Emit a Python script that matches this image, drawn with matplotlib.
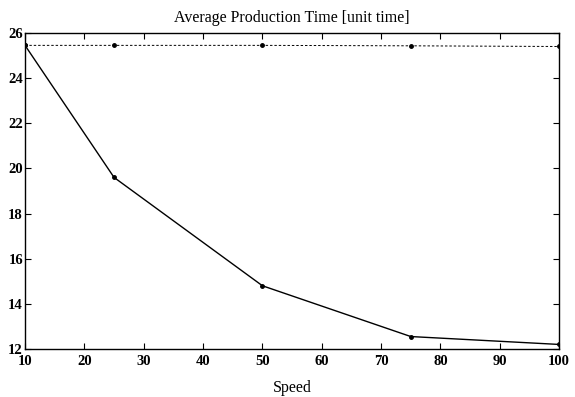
import matplotlib
matplotlib.use("Agg")
import matplotlib.pyplot as plt

speed = [10, 25, 50, 75, 100]
time_solid = [25.45, 19.6, 14.8, 12.55, 12.2]
time_dotted = [25.45, 25.45, 25.45, 25.43, 25.4]

plt.rcParams['font.family'] = ['Liberation Serif', 'DejaVu Serif']

fig = plt.figure(figsize=(5.75, 3.97), dpi=100)
ax = fig.add_axes([0.0435, 0.121, 0.929, 0.796])

ax.plot(speed, time_solid, color='black', lw=1.0, marker='o', ms=2.5)
ax.plot(speed, time_dotted, color='black', lw=0.7, ls=(0, (2.5, 2)), marker='o', ms=2.5)

ax.set_xlim(10, 100)
ax.set_ylim(12, 26)
ax.set_xticks(range(10, 101, 10))
ax.set_yticks(range(12, 27, 2))
ax.tick_params(direction='in', top=True, right=True, length=4, width=0.8,
               labelsize=10.5, pad=1.5)
ax.tick_params(axis='x', pad=4)
for lab in ax.get_xticklabels() + ax.get_yticklabels():
    lab.set_fontweight('bold')
for s in ax.spines.values():
    s.set_linewidth(1.0)

ax.set_title("Average Production Time [unit time]", fontsize=11.5, pad=8)
ax.set_xlabel("Speed", fontsize=11.5, labelpad=9)

fig.savefig("out.png", dpi=100)
